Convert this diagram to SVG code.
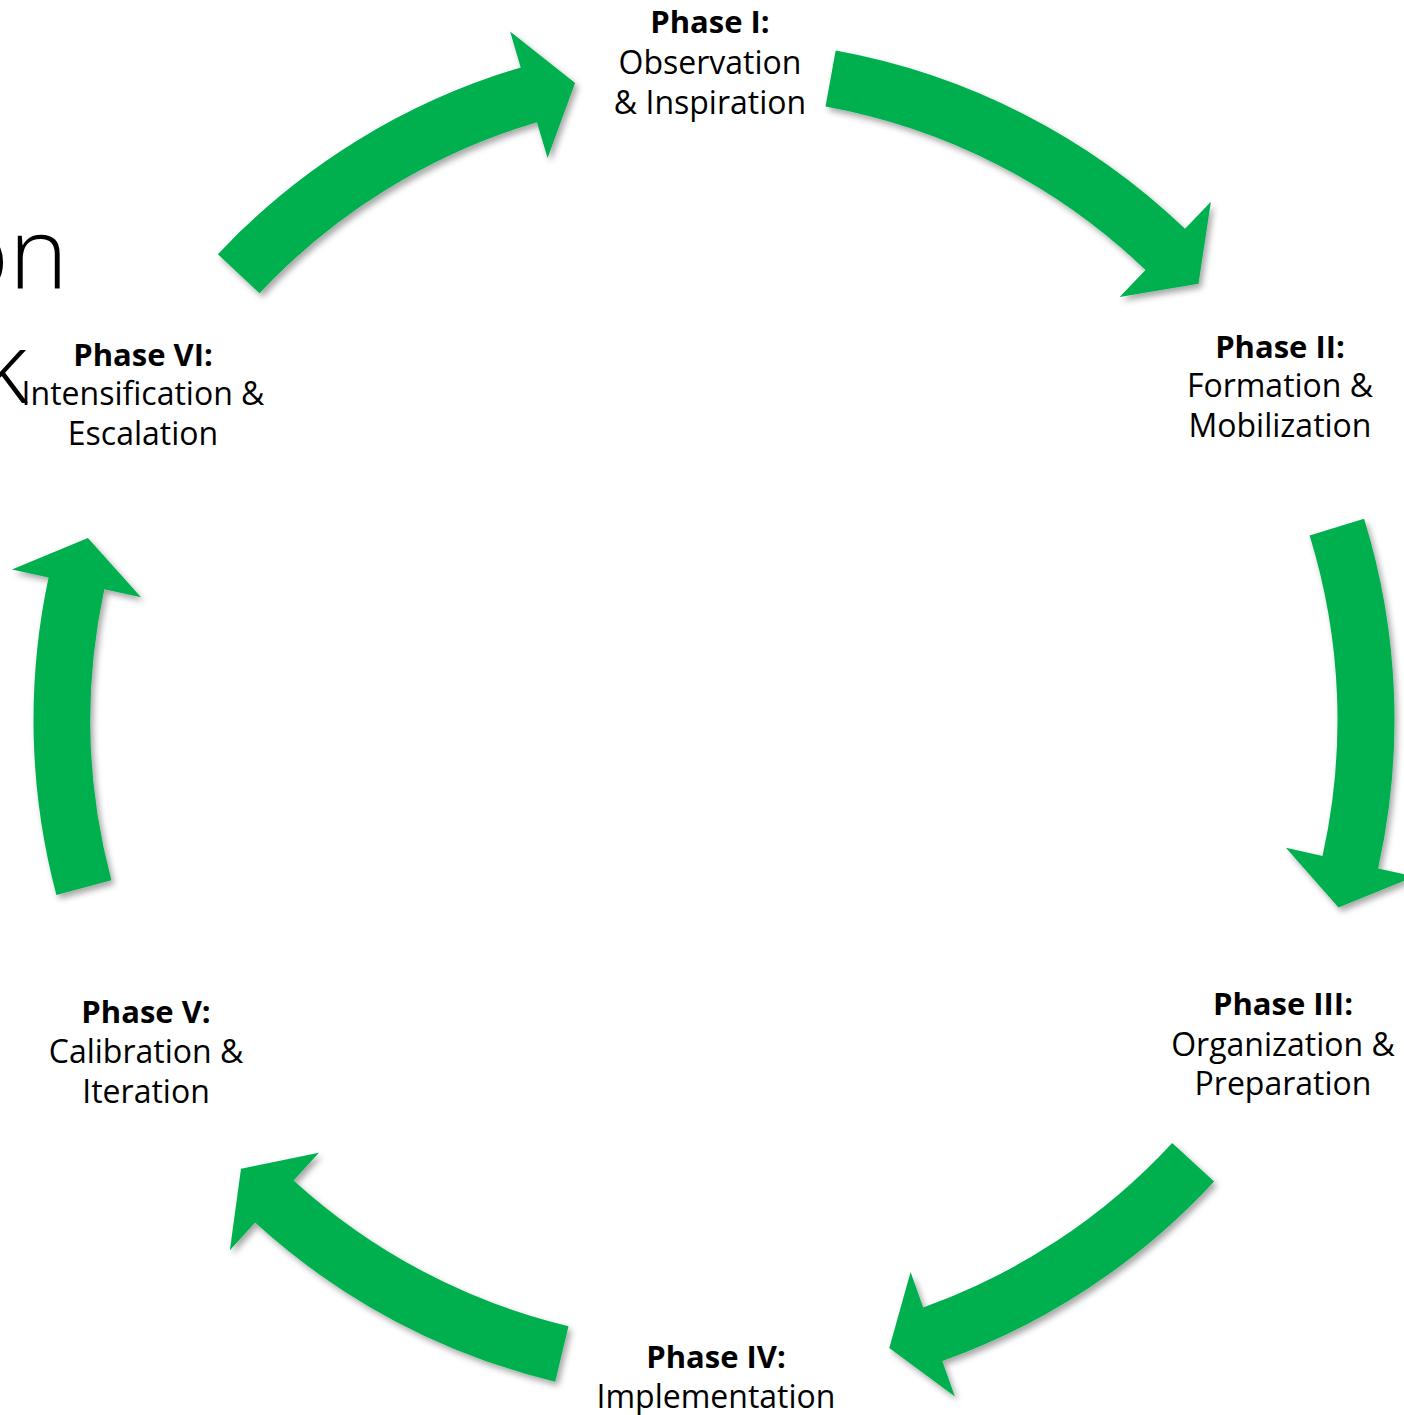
<svg xmlns="http://www.w3.org/2000/svg" width="1404" height="1415" viewBox="0 0 1404 1415">
<defs>
<filter id="sh" x="-20%" y="-20%" width="140%" height="140%">
<feDropShadow dx="3" dy="4" stdDeviation="3" flood-color="#000" flood-opacity="0.35"/>
</filter>
<style>
.arrow{fill:#00B050;filter:url(#sh);}
.lbl{font-family:"Open Sans","Liberation Sans",sans-serif;font-size:32px;fill:#000;text-anchor:middle;}
.hd{font-weight:bold;font-size:31px;}
.title{font-family:"Open Sans","Roboto","Liberation Sans",sans-serif;font-weight:300;font-size:100px;fill:#000;text-anchor:end;}
</style>
</defs>
<rect width="1404" height="1415" fill="#fff"/>
<g id="title-fragment">
<text class="title" x="68" y="289">on</text>
<text class="title" x="28" y="403">k</text>
</g>
<g id="connectors">
<path class="arrow" d="M217.9,254.2 A680.5,680.5 0 0 1 520.7,67.5 L510.1,31.6 L575.1,83.0 L547.6,158.1 L536.9,122.2 A623.5,623.5 0 0 0 259.5,293.2 Z"/>
<path class="arrow" d="M835.7,50.5 A680.5,680.5 0 0 1 1185.0,228.8 L1210.9,201.7 L1198.5,283.7 L1119.6,297.0 L1145.5,270.0 A623.5,623.5 0 0 0 825.5,106.5 Z"/>
<path class="arrow" d="M1364.1,518.8 A680.5,680.5 0 0 1 1378.1,868.4 L1414.7,876.6 L1338.5,907.4 L1285.9,847.8 L1322.5,856.0 A623.5,623.5 0 0 0 1309.6,535.6 Z"/>
<path class="arrow" d="M1214.1,1181.5 A680.5,680.5 0 0 1 942.3,1361.1 L954.9,1396.4 L889.3,1348.0 L910.6,1272.1 L923.2,1307.4 A623.5,623.5 0 0 0 1172.2,1142.9 Z"/>
<path class="arrow" d="M555.2,1381.7 A680.5,680.5 0 0 1 255.1,1222.6 L229.9,1250.2 L241.0,1168.8 L318.9,1152.8 L293.6,1180.5 A623.5,623.5 0 0 0 568.5,1326.3 Z"/>
<path class="arrow" d="M56.4,895.0 A680.5,680.5 0 0 1 48.6,577.4 L11.9,569.5 L87.9,538.1 L141.0,597.2 L104.3,589.3 A623.5,623.5 0 0 0 111.4,880.3 Z"/>
</g>
<g id="phase1">
<text class="lbl hd" x="710" y="33">Phase I:</text>
<text class="lbl" x="710" y="74">Observation</text>
<text class="lbl" x="710" y="114">&amp; Inspiration</text>
</g>
<g id="phase2">
<text class="lbl hd" x="1280" y="358">Phase II:</text>
<text class="lbl" x="1280" y="397">Formation &amp;</text>
<text class="lbl" x="1280" y="437">Mobilization</text>
</g>
<g id="phase3">
<text class="lbl hd" x="1283" y="1015">Phase III:</text>
<text class="lbl" x="1283" y="1056">Organization &amp;</text>
<text class="lbl" x="1283" y="1095">Preparation</text>
</g>
<g id="phase4">
<text class="lbl hd" x="716" y="1368">Phase IV:</text>
<text class="lbl" x="716" y="1408">Implementation</text>
</g>
<g id="phase5">
<text class="lbl hd" x="146" y="1023">Phase V:</text>
<text class="lbl" x="146" y="1063">Calibration &amp;</text>
<text class="lbl" x="146" y="1103">Iteration</text>
</g>
<g id="phase6">
<text class="lbl hd" x="143" y="366">Phase VI:</text>
<text class="lbl" x="143" y="405">Intensification &amp;</text>
<text class="lbl" x="143" y="445">Escalation</text>
</g>
</svg>
